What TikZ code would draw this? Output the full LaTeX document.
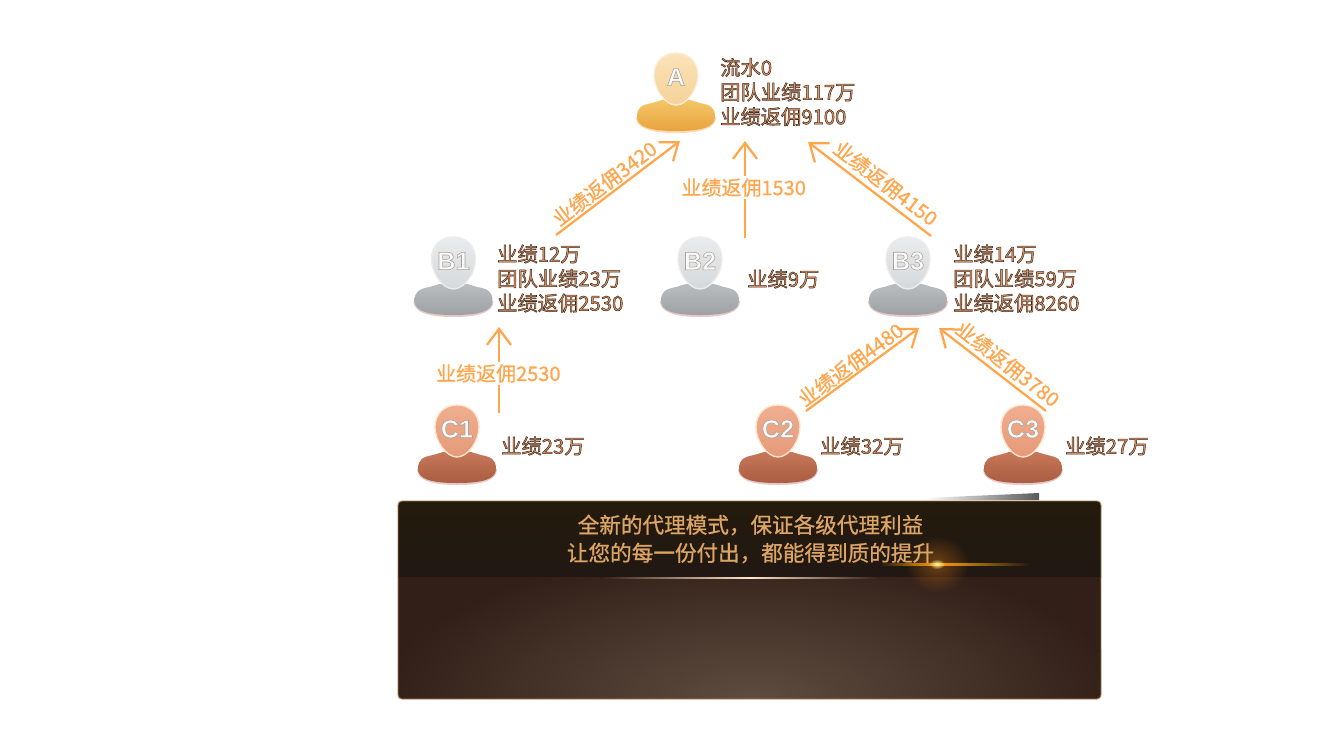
\documentclass[tikz,border=0pt]{standalone}
\usepackage{fontspec}
\usepackage{xcolor}
\usetikzlibrary{arrows.meta,positioning,fadings}
\setmainfont{Noto Sans CJK SC}
\newfontfamily\heavycjk[FakeBold=2.6]{Noto Sans CJK SC}
\newfontfamily\lightcjk[FakeBold=0.8]{Noto Sans CJK SC}
\newfontfamily\letterfont[FakeBold=2.2,UprightFont=* Bold]{Liberation Sans}
\newcommand{\widecomma}{\char"FF0C\relax}
\definecolor{flowline}{HTML}{FFA64D}
\definecolor{bannergold}{HTML}{DDA565}
\definecolor{paneltop}{HTML}{241A0D}
\definecolor{panelmid}{HTML}{211813}
\definecolor{panellow}{HTML}{321F17}
\definecolor{panelglow}{HTML}{5E4C40}
\definecolor{aheadtop}{HTML}{FBE3B8}
\definecolor{aheadlow}{HTML}{F5D298}
\definecolor{abodytop}{HTML}{F3C668}
\definecolor{abodylow}{HTML}{E8A33D}
\definecolor{bheadtop}{HTML}{E9EBED}
\definecolor{bheadlow}{HTML}{D6D9DB}
\definecolor{bbodytop}{HTML}{BABDBF}
\definecolor{bbodylow}{HTML}{9EA1A3}
\definecolor{cheadtop}{HTML}{F0AE8E}
\definecolor{cheadlow}{HTML}{E59A7A}
\definecolor{cbodytop}{HTML}{C8785A}
\definecolor{cbodylow}{HTML}{A95C40}
\tikzfading[name=glowfade, inner color=transparent!0, outer color=transparent!100]

% one member icon: name and letter, x, top y, tier, shadow colour
\newcommand{\person}[5]{
  \begin{scope}[shift={(#2,#3)}]
    \path[fill=#5, opacity=0.3, draw=none] (-40,64) .. controls (-40,75) and (-26,80) .. (0,80) .. controls (26,80) and (40,75) .. (40,64) -- cycle;
    \path[#4body] (-39,64) .. controls (-39,54) and (-34,52) .. (-24,50) -- (-14,47) -- (14,47) -- (24,50) .. controls (34,52) and (39,54) .. (39,64) .. controls (39,74) and (26,78) .. (0,78) .. controls (-26,78) and (-39,74) .. (-39,64) -- cycle;
    \path[#4head] (0,0) .. controls (13,0) and (22,9) .. (22,22) .. controls (22,36) and (11,52) .. (0,52) .. controls (-11,52) and (-22,36) .. (-22,22) .. controls (-22,9) and (-13,0) .. (0,0) -- cycle;
    \node[iconletter] (#1) at (0,24) {#1};
  \end{scope}
}

\begin{document}
\begin{tikzpicture}[
  x=0.75pt, y=-0.75pt,
  flow/.style={-{Straight Barb[length=12pt,width=18pt]}, line width=1.7pt, flowline},
  flowlabel/.style={font=\lightcjk\fontsize{15}{18}\selectfont, text=flowline, inner sep=2pt},
  info/.style={anchor=west, align=left, inner sep=0pt,
    font=\heavycjk\fontsize{15.2}{18.4}\selectfont,
    execute at begin node={\special{pdf:bcolor [0.86 0.60 0.42] [0.27 0.17 0.11]}},
    execute at end node={\special{pdf:ecolor}}},
  iconletter/.style={inner sep=0pt,
    font=\letterfont\fontsize{19}{19}\selectfont,
    execute at begin node={\special{pdf:bcolor [0.98 0.98 0.98] [0.66 0.63 0.60]}},
    execute at end node={\special{pdf:ecolor}}},
  bannertext/.style={align=center, inner sep=0pt, text=bannergold,
    font=\lightcjk\fontsize{16.2}{21}\selectfont},
  ahead/.style={top color=aheadtop, bottom color=aheadlow, draw=white!85!orange, line width=1pt},
  abody/.style={top color=abodytop, bottom color=abodylow},
  bhead/.style={top color=bheadtop, bottom color=bheadlow, draw=white!85!gray, line width=1pt},
  bbody/.style={top color=bbodytop, bottom color=bbodylow},
  chead/.style={top color=cheadtop, bottom color=cheadlow, draw=white!80!orange, line width=1pt},
  cbody/.style={top color=cbodytop, bottom color=cbodylow}
]
\useasboundingbox (0,0) rectangle (1334,750);
\fill[white] (0,0) rectangle (1334,750);

% Top: member A
\person{A}{676}{53}{a}{orange}
\node[info] (Atext) at (720,92) {流水0\\团队业绩117万\\业绩返佣9100};

% Middle: members B
\person{B1}{453.5}{237}{b}{red!40!gray}
\person{B2}{700}{237}{b}{red!40!gray}
\person{B3}{908}{237}{b}{red!40!gray}
\node[info] (B1text) at (497,278.5) {业绩12万\\团队业绩23万\\业绩返佣2530};
\node[info] (B2text) at (747,279) {业绩9万};
\node[info] (B3text) at (953,278.5) {业绩14万\\团队业绩59万\\业绩返佣8260};

% Bottom: members C
\person{C1}{457}{405}{c}{red!40!gray}
\person{C2}{778}{405}{c}{red!40!gray}
\person{C3}{1023}{405}{c}{red!40!gray}
\node[info] (C1text) at (501,446) {业绩23万};
\node[info] (C2text) at (820,446) {业绩32万};
\node[info] (C3text) at (1065,446) {业绩27万};

% Connector ends
\coordinate (Ain1) at (680,141);
\coordinate (Ain2) at (745,141);
\coordinate (Ain3) at (808,142);
\coordinate (B1out) at (556,235);
\coordinate (B2out) at (745,238);
\coordinate (B3out) at (931,236);
\coordinate (B1in) at (499,327);
\coordinate (B3in1) at (919,328);
\coordinate (B3in2) at (939,328);
\coordinate (C1out) at (499,413);
\coordinate (C2out) at (806,411);
\coordinate (C3out) at (1046,411);

% Arrows
\draw[flow] (B1out) -- node[flowlabel, midway, above, sloped, xshift=-6pt, yshift=-1pt] (flowB1) {业绩返佣3420} (Ain1);
\draw[flow] (B2out) -- node[flowlabel, pos=0.52, fill=white, xshift=-1pt] (flowB2) {业绩返佣1530} (Ain2);
\draw[flow] (B3out) -- node[flowlabel, midway, above, sloped, xshift=7pt, yshift=1pt] (flowB3) {业绩返佣4150} (Ain3);
\draw[flow] (C1out) -- node[flowlabel, pos=0.46, fill=white, xshift=-0.5pt] (flowC1) {业绩返佣2530} (B1in);
\draw[flow] (C2out) -- node[flowlabel, midway, above, sloped, xshift=-5pt, yshift=-1.5pt] (flowC2) {业绩返佣4480} (B3in1);
\draw[flow] (C3out) -- node[flowlabel, midway, above, sloped, xshift=6.5pt, yshift=0.5pt] (flowC3) {业绩返佣3780} (B3in2);

% Sliver above the panel
\shade[left color=white, right color=black!65] (925,498) -- (1039,493) -- (1039,500) -- (925,500) -- cycle;

% Panel
\begin{scope}
  \clip[rounded corners=3] (398,501) rectangle (1101,699);
  \shade[top color=paneltop, bottom color=panelmid] (398,501) rectangle (1101,577);
  \fill[panellow] (398,577) rectangle (1101,699);
  \clip (398,577) rectangle (1101,699);
  \shade[inner color=panelglow, outer color=panellow] (752,699) ellipse [x radius=370, y radius=150];
\end{scope}
\draw[bannergold!75!black, line width=0.7pt, rounded corners=3] (398,501) rectangle (1101,699);

% Glow lines
\shade[left color=panellow, right color=white!80!orange] (600,577.5) rectangle (750,578.8);
\shade[left color=white!80!orange, right color=panellow] (750,577.5) rectangle (880,578.8);
\shade[left color=panelmid, right color=orange!70!yellow] (880,563.5) rectangle (937,565);
\shade[left color=orange!70!yellow, right color=panelmid] (937,563.5) rectangle (1030,565);
\fill[orange!70!brown, path fading=glowfade, opacity=0.4] (937,564) ellipse [x radius=32, y radius=28];
\fill[white!60!yellow, path fading=glowfade] (937,564) ellipse [x radius=8, y radius=5];

% Panel text
\node[bannertext] (slogan) at (750.5,539) {全新的代理模式\widecomma 保证各级代理利益\\让您的每一份付出\widecomma 都能得到质的提升};

\end{tikzpicture}
\end{document}
